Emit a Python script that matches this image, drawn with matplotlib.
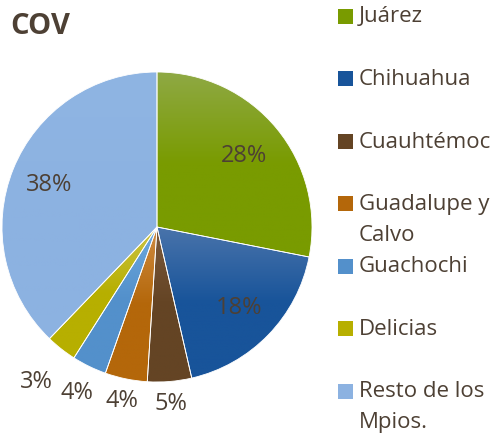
import numpy as np
import matplotlib.pyplot as plt
from matplotlib.colors import LinearSegmentedColormap
from matplotlib.patches import Rectangle

# data
labels = ["Juárez", "Chihuahua", "Cuauhtémoc", "Guadalupe y\nCalvo",
          "Guachochi", "Delicias", "Resto de los\nMpios."]
values = [28.1, 18.3, 4.6, 4.4, 3.6, 3.2, 37.8]
pct_text = ["28%", "18%", "5%", "4%", "4%", "3%", "38%"]

top_colors = ["#8fa945", "#4a74ab", "#7b5a3c", "#cf8c42", "#6eaade", "#cbc447", "#8fb5e3"]
base_colors = ["#799b00", "#18549a", "#644424", "#b4670a", "#5390cb", "#b7af00", "#8cb2e1"]
label_dist = [0.73, 0.74, 1.14, 1.14, 1.18, 1.26, 0.75]

txt = "#4d4034"
plt.rcParams['font.family'] = ['Open Sans', 'DejaVu Sans']

W, H = 498, 439
fig = plt.figure(figsize=(W / 100, H / 100), dpi=100)

cx, cy, R = 157, 228, 155
ax = fig.add_axes([(cx - R) / W, (H - cy - R) / H, 2 * R / W, 2 * R / H])

wedges, _ = ax.pie(values, colors=base_colors, startangle=90, counterclock=False,
                   radius=1, wedgeprops=dict(edgecolor="white", linewidth=0.6))

for i, w in enumerate(wedges):
    ext = w.get_path().get_extents()
    cmap = LinearSegmentedColormap.from_list("g%d" % i, [top_colors[i], base_colors[i], base_colors[i]])
    grad = np.linspace(0, 1, 256).reshape(-1, 1)
    im = ax.imshow(grad, cmap=cmap, extent=[ext.x0, ext.x1, ext.y0, ext.y1],
                   origin="upper", aspect="auto", zorder=1)
    im.set_clip_path(w)
    w.set_facecolor("none")
    w.set_zorder(2)

    mid = np.deg2rad((w.theta1 + w.theta2) / 2)
    d = label_dist[i]
    ax.text(d * np.cos(mid), d * np.sin(mid), pct_text[i], ha="center", va="center",
            fontsize=17, color=txt, clip_on=False, zorder=3)

ax.set_xlim(-1, 1)
ax.set_ylim(-1, 1)
ax.axis("off")

fig.text(10 / W, 1 - 27 / H, "COV", fontsize=21, fontweight="bold", color=txt,
         ha="left", va="center")

# legend drawn by hand, fixed slot per entry like the original
for i, lab in enumerate(labels):
    y0 = 17 + i * 62.5
    fig.patches.append(Rectangle((338 / W, 1 - (y0 + 7.5) / H), 15 / W, 15 / H,
                                 transform=fig.transFigure, facecolor=base_colors[i],
                                 edgecolor="none"))
    for k, line in enumerate(lab.split("\n")):
        fig.text(359 / W, 1 - (y0 + k * 31) / H, line, fontsize=16, color=txt,
                 ha="left", va="center")

fig.savefig("out.png", dpi=100)
